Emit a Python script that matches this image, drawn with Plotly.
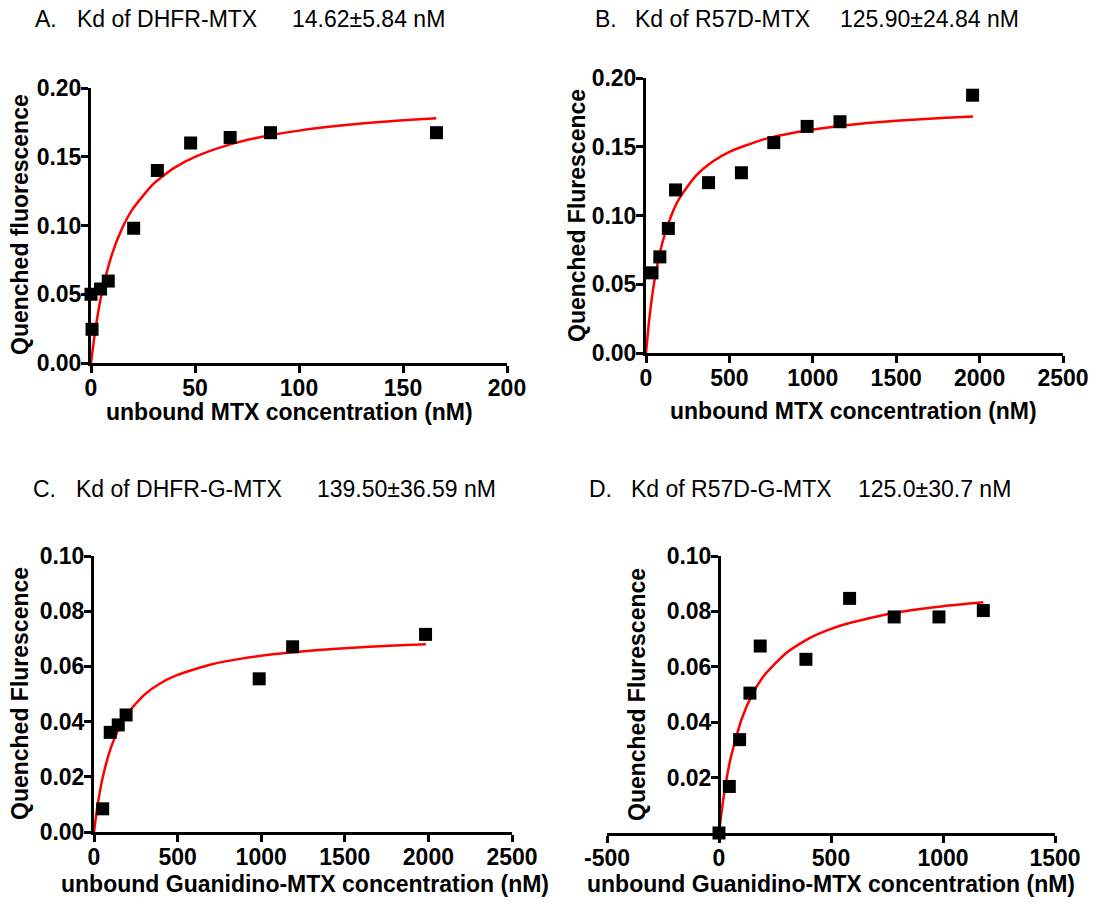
import plotly.graph_objects as go

W, H = 1107, 905

# ---------------- data ----------------
a_x = [0.5, 0, 4.6, 8.3, 20.5, 31.9, 47.9, 66.9, 86.3, 166.1]
a_y = [0.0245, 0.050, 0.0538, 0.0596, 0.098, 0.140, 0.160, 0.164, 0.1675, 0.1675]
a_fit_x = [0, 2, 5, 10, 15, 20, 30, 40, 50, 65, 80, 100, 125, 150, 166]
a_fit_y = [0, 0.0233, 0.0494, 0.0787, 0.0981, 0.1119, 0.1302, 0.1419, 0.1499,
           0.1581, 0.1638, 0.1690, 0.1734, 0.1765, 0.1780]

b_x = [36, 83, 134, 177, 375, 572, 766, 966, 1163, 1958]
b_y = [0.0583, 0.0699, 0.0906, 0.1186, 0.1239, 0.1311, 0.153, 0.1648, 0.1682, 0.1875]
b_fit_x = [0, 20, 50, 100, 150, 200, 300, 400, 500, 700, 900, 1200, 1500, 1800, 1960]
b_fit_y = [0, 0.0251, 0.0520, 0.0811, 0.0995, 0.1124, 0.1290, 0.1393, 0.1463,
           0.1552, 0.1606, 0.1657, 0.1689, 0.1711, 0.1720]

c_x = [52, 97, 145, 192, 988, 1188, 1983]
c_y = [0.0084, 0.0361, 0.0388, 0.0424, 0.0555, 0.0671, 0.0716]
c_fit_x = [0, 20, 50, 100, 150, 200, 300, 400, 500, 700, 900, 1200, 1500, 1800, 1985]
c_fit_y = [0, 0.0091, 0.0192, 0.0304, 0.0377, 0.0429, 0.0497, 0.0540, 0.0569,
           0.0607, 0.0630, 0.0652, 0.0666, 0.0676, 0.0680]

d_x = [0, 46, 92, 138, 184, 388, 583, 782, 982, 1180]
d_y = [0, 0.0168, 0.0337, 0.0505, 0.0675, 0.0627, 0.0847, 0.078, 0.078, 0.0803]
d_fit_x = [0, 20, 50, 100, 150, 200, 300, 400, 500, 600, 700, 800, 1000, 1180]
d_fit_y = [0, 0.0127, 0.0263, 0.0409, 0.0502, 0.0567, 0.0650, 0.0702, 0.0737,
           0.0762, 0.0781, 0.0797, 0.0819, 0.0833]

# tick labels
a_xticks = [0, 50, 100, 150, 200]
bc_xticks = [0, 500, 1000, 1500, 2000, 2500]
d_xticks = [-500, 0, 500, 1000, 1500]
d_xticklabels = ["-500", "0", "500", "1000", "1500"]
ab_yticks = [0, 0.05, 0.10, 0.15, 0.20]
c_yticks = [0, 0.02, 0.04, 0.06, 0.08, 0.10]
d_yticks = [0.02, 0.04, 0.06, 0.08, 0.10]

titles = [
    ("A.", "Kd of DHFR-MTX", "14.62±5.84 nM"),
    ("B.", "Kd of R57D-MTX", "125.90±24.84 nM"),
    ("C.", "Kd of DHFR-G-MTX", "139.50±36.59 nM"),
    ("D.", "Kd of R57D-G-MTX", "125.0±30.7 nM"),
]
x_titles = ["unbound MTX concentration (nM)", "unbound MTX concentration (nM)",
            "unbound Guanidino-MTX concentration (nM)",
            "unbound Guanidino-MTX concentration (nM)"]
y_titles = ["Quenched fluorescence", "Quenched Flurescence",
            "Quenched Flurescence", "Quenched Flurescence"]

# ---------------- layout helpers ----------------
FONT = "Liberation Sans, Arial, sans-serif"

def px(x):
    return x / W

def py(y):
    return 1 - y / H

fig = go.Figure()

panels = [
    dict(data=(a_x, a_y, a_fit_x, a_fit_y), xd=(91, 507), yd=(363, 88),
         xr=[0, 200], xtv=a_xticks, xtt=[str(v) for v in a_xticks],
         yr=[0, 0.20], ytv=ab_yticks),
    dict(data=(b_x, b_y, b_fit_x, b_fit_y), xd=(646, 1063), yd=(353, 78),
         xr=[0, 2500], xtv=bc_xticks, xtt=[str(v) for v in bc_xticks],
         yr=[0, 0.20], ytv=ab_yticks),
    dict(data=(c_x, c_y, c_fit_x, c_fit_y), xd=(94, 512), yd=(832, 556),
         xr=[0, 2500], xtv=bc_xticks, xtt=[str(v) for v in bc_xticks],
         yr=[0, 0.10], ytv=c_yticks),
    dict(data=(d_x, d_y, d_fit_x, d_fit_y), xd=(607, 1055), yd=(833, 556),
         xr=[-500, 1500], xtv=d_xticks, xtt=d_xticklabels,
         yr=[0, 0.10], ytv=d_yticks),
]

title_pos = [
    ((33, 75, 290), 19),
    ((593, 633, 838), 19),
    ((31, 74, 315), 489),
    ((587, 629, 856), 489),
]
xt_pos = [(289, 412), (853, 411), (305, 884), (831, 884)]
yt_pos = [(20, 225), (577, 216), (20, 694), (637, 694)]

annotations = []
for i, p in enumerate(panels):
    n = "" if i == 0 else str(i + 1)
    xa, ya = "x" + n, "y" + n
    sx, sy, fx, fy = p["data"]
    fig.add_trace(go.Scatter(x=fx, y=fy, mode="lines", xaxis=xa, yaxis=ya,
                             line=dict(color="#ff0000", width=2.5, shape="spline",
                                       smoothing=0.6),
                             showlegend=False, hoverinfo="skip"))
    fig.add_trace(go.Scatter(x=sx, y=sy, mode="markers", xaxis=xa, yaxis=ya,
                             marker=dict(symbol="square", size=13, color="black"),
                             cliponaxis=False, showlegend=False))
    xdom = [px(p["xd"][0]), px(p["xd"][1])]
    ydom = [py(p["yd"][0]), py(p["yd"][1])]
    common = dict(showline=True, linecolor="black", linewidth=3, ticks="outside",
                  ticklen=7, tickwidth=3, tickcolor="black", showgrid=False,
                  zeroline=False, automargin=False,
                  tickfont=dict(family=FONT, size=23, color="black", weight="bold"))
    xaxis = dict(domain=xdom, range=p["xr"], tickvals=p["xtv"], ticktext=p["xtt"],
                 anchor=ya, ticklabelstandoff=-5, **common)
    if i == 3:
        frac = (0 - p["xr"][0]) / (p["xr"][1] - p["xr"][0])
        yaxis = dict(domain=ydom, range=p["yr"], tickvals=p["ytv"], tickformat=".2f",
                     anchor="free", position=xdom[0] + frac * (xdom[1] - xdom[0]),
                     ticklabelstandoff=-5, **common)
    else:
        yaxis = dict(domain=ydom, range=p["yr"], tickvals=p["ytv"], tickformat=".2f",
                     anchor=xa, ticklabelstandoff=-5, **common)
    fig.layout["xaxis" + n] = xaxis
    fig.layout["yaxis" + n] = yaxis

    (lx, kx, vx), ty = title_pos[i]
    for txt, xx in zip(titles[i], (lx, kx, vx)):
        annotations.append(dict(text=txt, x=px(xx), y=py(ty), xref="paper", yref="paper",
                                xanchor="left", yanchor="middle", showarrow=False,
                                font=dict(family=FONT, size=23, color="black")))
    annotations.append(dict(text=x_titles[i], x=px(xt_pos[i][0]), y=py(xt_pos[i][1]),
                            xref="paper", yref="paper", xanchor="center",
                            yanchor="middle", showarrow=False,
                            font=dict(family=FONT, size=23, color="black", weight="bold")))
    annotations.append(dict(text=y_titles[i], x=px(yt_pos[i][0]), y=py(yt_pos[i][1]),
                            xref="paper", yref="paper", xanchor="center",
                            yanchor="middle", showarrow=False, textangle=-90,
                            font=dict(family=FONT, size=23, color="black", weight="bold")))

fig.update_layout(width=W, height=H, margin=dict(l=0, r=0, t=0, b=0, autoexpand=False),
                  paper_bgcolor="white", plot_bgcolor="white",
                  annotations=annotations, showlegend=False)

fig.write_html("out.html", config={"displayModeBar": False},
               post_script="document.body.style.margin='0';document.body.style.overflow='hidden';")
